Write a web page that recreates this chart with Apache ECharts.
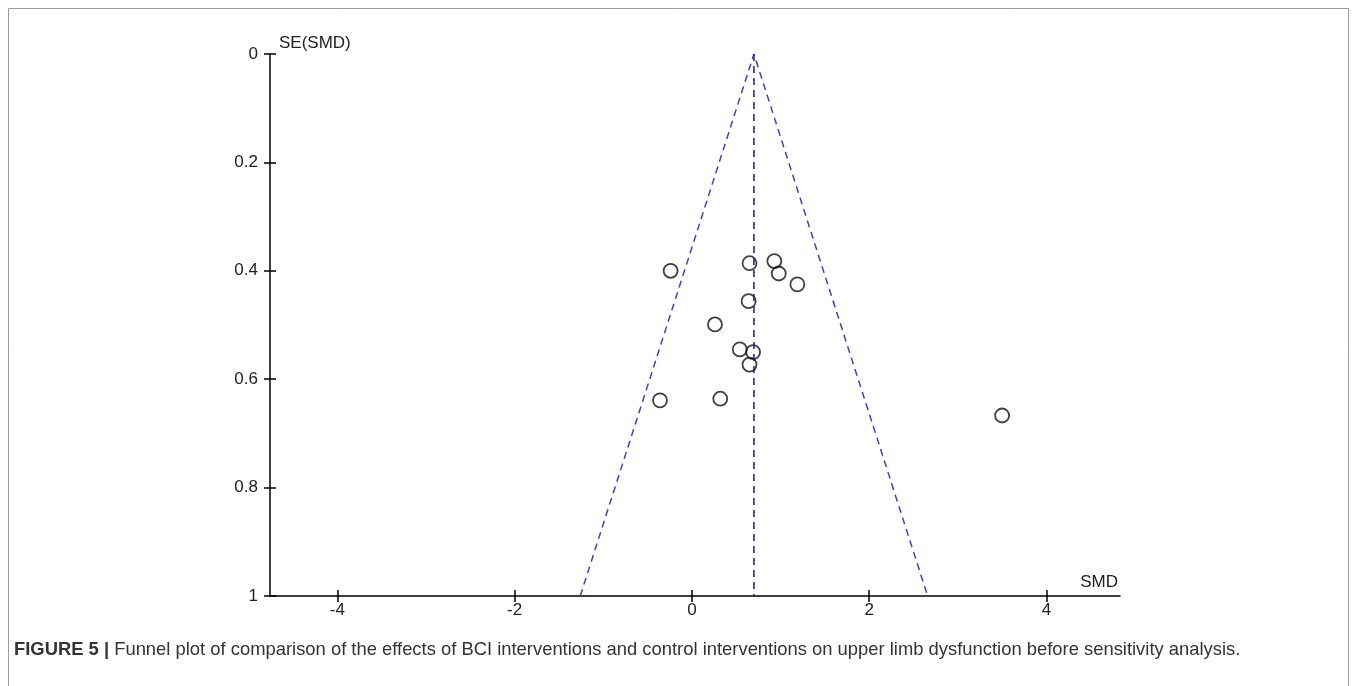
<!DOCTYPE html>
<html>
<head>
<meta charset="utf-8">
<script src="https://cdn.jsdelivr.net/npm/echarts@6/dist/echarts.min.js"></script>
<style>
html,body{margin:0;padding:0;background:#fff;}
#chart{width:1357px;height:686px;}
</style>
</head>
<body>
<div id="chart"></div>
<script>
// Study points: SMD (x) and SE(SMD) (y)
const smd = [-0.24, 0.65, 0.93, 0.98, 1.19, 0.64, 0.26, 0.54, 0.69, 0.65, -0.36, 0.32, 3.50];
const seSmd = [0.400, 0.386, 0.382, 0.405, 0.425, 0.456, 0.499, 0.545, 0.550, 0.573, 0.639, 0.636, 0.667];
// Pooled estimate line and funnel limits (95% pseudo-CI)
const pooledX = [0.70, 0.70];
const pooledY = [0, 1];
const funnelX = [-1.26, 0.70, 2.66];
const funnelY = [1, 0, 1];
// Tick labels
const xTicks = [-4, -2, 0, 2, 4];
const yTicks = [0, 0.2, 0.4, 0.6, 0.8, 1];
const captionBold = 'FIGURE 5 |';
const captionText = ' Funnel plot of comparison of the effects of BCI interventions and control interventions on upper limb dysfunction before sensitivity analysis.';

const pts = smd.map((x, i) => [x, seSmd[i]]);
const pooled = pooledX.map((x, i) => [x, pooledY[i]]);
const funnel = funnelX.map((x, i) => [x, funnelY[i]]);

const labelFont = {fontFamily: 'Liberation Sans, Arial, sans-serif', fontSize: 17, color: '#222'};
const xMin = -4.76, xMax = 4.83;

const chart = echarts.init(document.getElementById('chart'), null, {renderer: 'canvas'});
chart.setOption({
  animation: false,
  backgroundColor: '#fff',
  grid: {left: 270, top: 54, right: 237, bottom: 90, containLabel: false},
  xAxis: [
    {
      type: 'value', min: xMin, max: xMax, position: 'bottom',
      name: 'SMD', nameLocation: 'end', nameGap: -2,
      nameTextStyle: Object.assign({align: 'right', verticalAlign: 'bottom', padding: [0, 0, 5, 0]}, labelFont),
      axisLine: {show: true, onZero: false, lineStyle: {color: '#000', width: 1.5}},
      axisTick: {show: true, length: 6, customValues: xTicks, lineStyle: {color: '#000', width: 1.5}},
      axisLabel: Object.assign({show: true, customValues: xTicks, margin: 6}, labelFont),
      splitLine: {show: false}
    },
    {
      type: 'value', min: xMin, max: xMax, position: 'bottom',
      axisLine: {show: false, onZero: false},
      axisTick: {show: true, inside: true, length: 6, customValues: xTicks, lineStyle: {color: '#000', width: 1.5}},
      axisLabel: {show: false},
      splitLine: {show: false}
    }
  ],
  yAxis: [
    {
      type: 'value', min: 0, max: 1, interval: 0.2, inverse: true, position: 'left',
      name: 'SE(SMD)', nameLocation: 'start', nameGap: 2,
      nameTextStyle: Object.assign({align: 'left', verticalAlign: 'bottom', padding: [0, 0, 0, 9]}, labelFont),
      axisLine: {show: true, onZero: false, lineStyle: {color: '#000', width: 1.5}},
      axisTick: {show: true, length: 6, lineStyle: {color: '#000', width: 1.5}},
      axisLabel: Object.assign({show: true, margin: 12, formatter: v => String(v)}, labelFont),
      splitLine: {show: false}
    },
    {
      type: 'value', min: 0, max: 1, interval: 0.2, inverse: true, position: 'left',
      axisLine: {show: false, onZero: false},
      axisTick: {show: true, inside: true, length: 6, lineStyle: {color: '#000', width: 1.5}},
      axisLabel: {show: false},
      splitLine: {show: false}
    }
  ],
  series: [
    {
      type: 'line', data: funnel, xAxisIndex: 0, yAxisIndex: 0,
      symbol: 'none', silent: true,
      lineStyle: {color: '#4040c8', width: 1.5, type: [7, 5]}
    },
    {
      type: 'line', data: pooled, xAxisIndex: 0, yAxisIndex: 0,
      symbol: 'none', silent: true,
      lineStyle: {color: '#1c1c88', width: 1.5, type: [7, 5]}
    },
    {
      type: 'scatter', data: pts, xAxisIndex: 0, yAxisIndex: 0,
      symbol: 'circle', symbolSize: 14,
      itemStyle: {color: 'rgba(255,255,255,0)', borderColor: '#111', borderWidth: 1.8}
    }
  ],
  graphic: [
    {
      type: 'rect', silent: true,
      shape: {x: 8.5, y: 8.5, width: 1340, height: 690},
      style: {fill: 'none', stroke: '#9a9a9a', lineWidth: 1}
    },
    {
      type: 'text', left: 14, top: 641, silent: true,
      style: {
        text: '{b|' + captionBold + '}{r|' + captionText + '}',
        rich: {
          b: {fontFamily: 'Liberation Sans, Arial, sans-serif', fontSize: 18.4, fontWeight: 'bold', fill: '#333'},
          r: {fontFamily: 'Liberation Sans, Arial, sans-serif', fontSize: 18.4, fill: '#333'}
        }
      }
    }
  ]
});
</script>
</body>
</html>
